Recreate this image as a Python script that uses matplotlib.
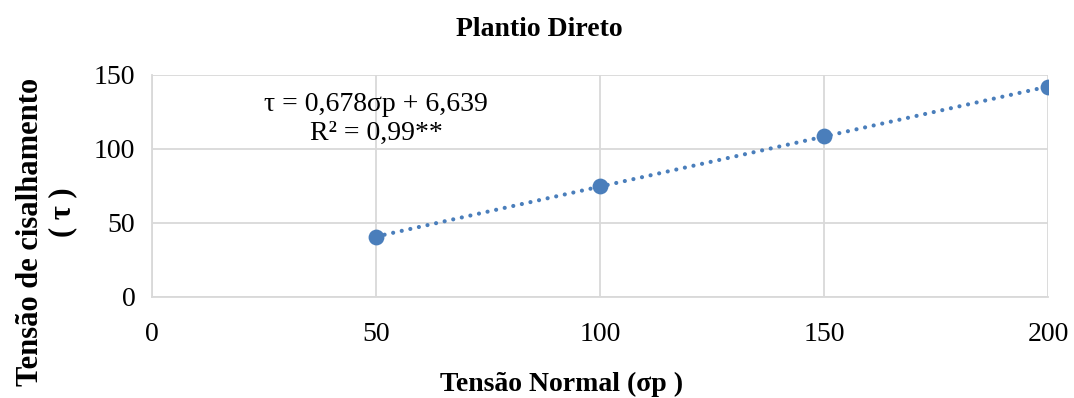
import numpy as np
import matplotlib.pyplot as plt

# Dados
tensao_normal = [50, 100, 150, 200]
tensao_cis = [40.5, 75, 108.5, 142]
x_ticks = [0, 50, 100, 150, 200]
y_ticks = [0, 50, 100, 150]

plt.rcParams['font.family'] = ['Liberation Serif', 'DejaVu Serif']

fig = plt.figure(figsize=(10.74, 3.98), dpi=100)
ax = fig.add_axes([0.1415, 0.2538, 0.8343, 0.5578])

azul = '#4a7ebb'
cinza = '#d9d9d9'

# linha de tendência (pontilhada)
a, b = np.polyfit(tensao_normal, tensao_cis, 1)
xs = np.array([tensao_normal[0], tensao_normal[-1]])
ax.plot(xs, a * xs + b, color=azul, linestyle=(0, (0.01, 2.1)), linewidth=3,
        dash_capstyle='round', zorder=3)
ax.scatter(tensao_normal, tensao_cis, s=130, color=azul, zorder=4, linewidths=0)

ax.set_xlim(0, 200)
ax.set_ylim(0, 150)
ax.set_xticks(x_ticks)
ax.set_yticks(y_ticks)
ax.tick_params(axis='both', length=0, labelsize=20, colors='#000000')
ax.tick_params(axis='x', pad=18)
ax.tick_params(axis='y', pad=12)
ax.grid(True, color=cinza, linewidth=1.3)
ax.set_axisbelow(True)
for lado in ['top', 'right']:
    ax.spines[lado].set_visible(False)
for lado in ['left', 'bottom']:
    ax.spines[lado].set_color(cinza)
    ax.spines[lado].set_linewidth(1.3)

ax.text(50, 130, 'τ = 0,678σp + 6,639', ha='center', va='center', fontsize=20)
ax.text(50, 110.5, 'R² = 0,99**', ha='center', va='center', fontsize=20)

fig.text(0.502, 0.925, 'Plantio Direto', ha='center', va='center',
         fontsize=20, fontweight='bold')
fig.text(0.523, 0.035, 'Tensão Normal (σp )', ha='center', va='center',
         fontsize=20, fontweight='bold')
fig.text(0.028, 0.418, 'Tensão de cisalhamento', ha='center', va='center',
         rotation=90, fontsize=22, fontweight='bold')
fig.text(0.058, 0.468, '( τ )', ha='center', va='center',
         rotation=90, fontsize=22, fontweight='bold')

fig.savefig('out.png', dpi=100)
